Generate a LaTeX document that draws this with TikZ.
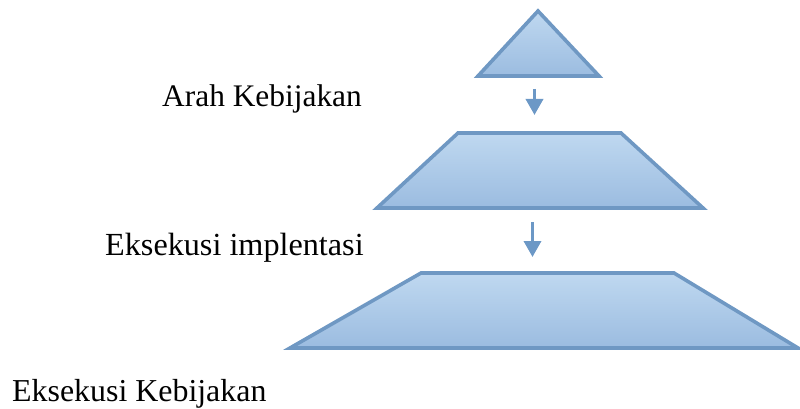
\documentclass[tikz,border=0pt]{standalone}
\usepackage{fontspec}
\setmainfont{Liberation Serif}
\usetikzlibrary{arrows.meta}
\definecolor{edgeblue}{HTML}{6F98C3}
\definecolor{topblue}{HTML}{BFD8F0}
\definecolor{botblue}{HTML}{9BBCE0}
\definecolor{arrowblue}{HTML}{6C98C6}
\tikzset{
  shapebox/.style={draw=edgeblue, line width=3.6pt, line join=miter, top color=topblue, bottom color=botblue},
  flowarrow/.style={draw=arrowblue, line width=3.5pt, -{Triangle[width=17pt,length=16pt]}},
  lbl/.style={anchor=base west, inner sep=0pt}
}
\begin{document}
\begin{tikzpicture}[x=1pt,y=-1pt]
\useasboundingbox (0,0) rectangle (800,409);
\filldraw[shapebox] (538,11) -- (599,76) -- (478,76) -- cycle;
\filldraw[shapebox] (458,133) -- (621,133) -- (703,208) -- (377,208) -- cycle;
\filldraw[shapebox] (421,273) -- (674,273) -- (798,348) -- (290,348) -- cycle;
\coordinate (a1s) at (534.5,89);
\coordinate (a1e) at (534.5,115);
\coordinate (a2s) at (532.5,222);
\coordinate (a2e) at (532.5,257);
\draw[flowarrow] (a1s) -- (a1e);
\draw[flowarrow] (a2s) -- (a2e);
\node[lbl, font=\fontsize{31.4}{31.4}\selectfont] (t1) at (162,107) {Arah Kebijakan};
\node[lbl, font=\fontsize{32.2}{32.2}\selectfont] (t2) at (105,255) {Eksekusi implentasi};
\node[lbl, font=\fontsize{31.9}{31.9}\selectfont] (t3) at (12,401) {Eksekusi Kebijakan};
\end{tikzpicture}
\end{document}
